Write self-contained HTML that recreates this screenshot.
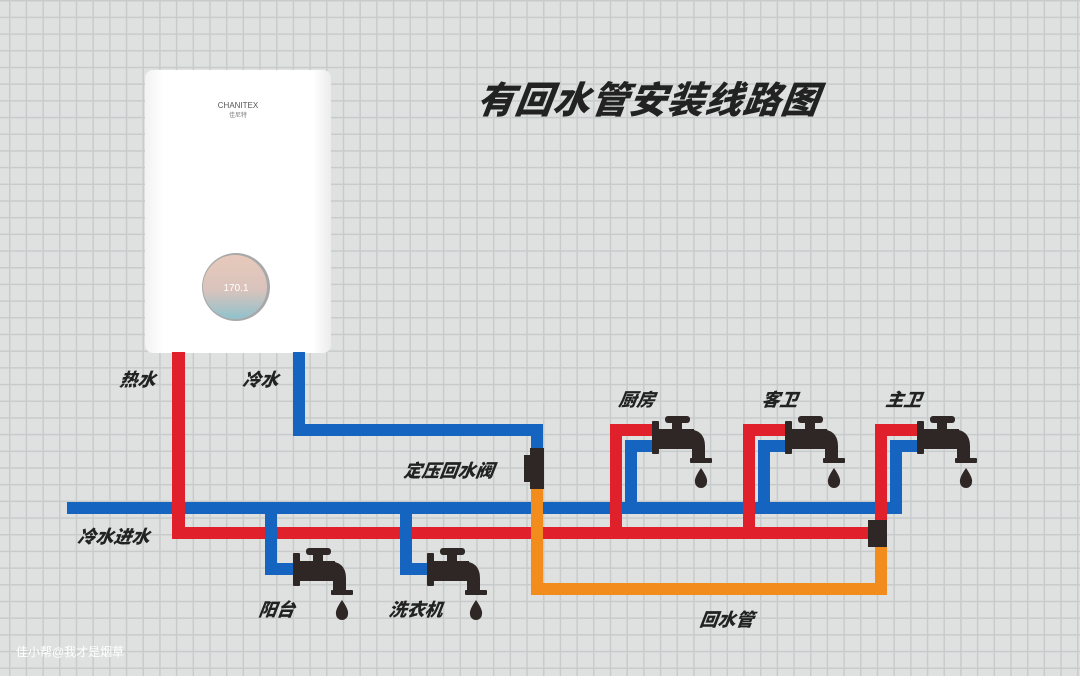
<!DOCTYPE html>
<html><head><meta charset="utf-8"><style>
html,body{margin:0;padding:0}
body{width:1080px;height:676px;overflow:hidden;position:relative;background:#dfe1e1;
background-image:linear-gradient(#c8cbcb 1.5px,transparent 1.5px),linear-gradient(90deg,#c8cbcb 1.5px,transparent 1.5px);
background-size:16.7px 16.7px;background-position:9px 0px;font-family:"Liberation Sans","Noto Sans CJK SC",sans-serif}
.t{position:absolute;font-weight:900;font-style:italic;color:#222;font-size:18px;white-space:nowrap;transform:skewX(-8deg)}
</style></head><body>
<svg width="1080" height="676" style="position:absolute;left:0;top:0">
<defs>
<linearGradient id="hg" x1="0" x2="1"><stop offset="0" stop-color="#f2f2f2"/><stop offset=".1" stop-color="#fff"/><stop offset=".9" stop-color="#fff"/><stop offset="1" stop-color="#ececec"/></linearGradient>
<linearGradient id="dg" x1="0" y1="0" x2="0" y2="1"><stop offset="0" stop-color="#e8c9bb"/><stop offset=".55" stop-color="#d9c3bc"/><stop offset="1" stop-color="#8fc2cc"/></linearGradient>
<g id="tap" fill="#2e2726">
<rect x="0" y="1" width="7" height="33" rx="1"/>
<rect x="6" y="9" width="36" height="20"/>
<rect x="20" y="2" width="10" height="9"/>
<rect x="13" y="-4" width="25" height="7" rx="3"/>
<path d="M34 9 Q53 9 53 26 L53 40 L40 40 L40 29 L34 29 Z"/>
<rect x="38" y="38" width="22" height="5" rx="1"/>
<path d="M49 48 Q42 58 43 62 A6 6 0 0 0 55 62 Q56 58 49 48Z"/>
</g>
</defs>
<rect x="145" y="70" width="186" height="283" rx="8" fill="url(#hg)"/>
<circle cx="236" cy="287" r="34" fill="#a9a9a9"/>
<circle cx="235" cy="287" r="32" fill="url(#dg)"/>
<text x="238" y="108" font-size="8" text-anchor="middle" fill="#555" font-family="Liberation Sans">CHANITEX</text>
<text x="238" y="117" font-size="6" text-anchor="middle" fill="#777">佳尼特</text>
<text x="236" y="291" font-size="10" text-anchor="middle" fill="#fff">170.1</text>
<rect x="67" y="502" width="835" height="12" fill="#1565c0"/>
<g fill="#e0202a">
<rect x="172" y="352" width="13" height="187"/>
<rect x="172" y="527" width="715" height="12"/>
<rect x="610" y="424" width="12" height="115"/><rect x="610" y="424" width="44" height="12"/>
<rect x="743" y="424" width="12" height="115"/><rect x="743" y="424" width="44" height="12"/>
<rect x="875" y="424" width="12" height="100"/><rect x="875" y="424" width="44" height="12"/>
</g>
<g fill="#1565c0">
<rect x="293" y="352" width="12" height="84"/>
<rect x="293" y="424" width="250" height="12"/>
<rect x="531" y="424" width="12" height="26"/>
<rect x="625" y="440" width="12" height="74"/><rect x="625" y="440" width="29" height="12"/>
<rect x="758" y="440" width="12" height="74"/><rect x="758" y="440" width="29" height="12"/>
<rect x="890" y="440" width="12" height="74"/><rect x="890" y="440" width="29" height="12"/>
<rect x="265" y="514" width="12" height="61"/><rect x="265" y="563" width="30" height="12"/>
<rect x="400" y="514" width="12" height="61"/><rect x="400" y="563" width="30" height="12"/>
</g>
<g fill="#f28c1c">
<rect x="531" y="489" width="12" height="106"/>
<rect x="531" y="583" width="356" height="12"/>
<rect x="875" y="545" width="12" height="50"/>
</g>
<g fill="#2e2726">
<rect x="530" y="448" width="14" height="41"/><rect x="524" y="455" width="8" height="27"/>
<rect x="868" y="520" width="19" height="27"/>
</g>
<use href="#tap" x="652" y="420"/>
<use href="#tap" x="785" y="420"/>
<use href="#tap" x="917" y="420"/>
<use href="#tap" x="293" y="552"/>
<use href="#tap" x="427" y="552"/>
</svg>
<div class="t" style="left:478px;top:70px;font-size:37px;letter-spacing:1px">有回水管安装线路图</div>
<div class="t" style="left:120px;top:366px">热水</div>
<div class="t" style="left:243px;top:366px">冷水</div>
<div class="t" style="left:404px;top:457px">定压回水阀</div>
<div class="t" style="left:78px;top:523px">冷水进水</div>
<div class="t" style="left:619px;top:386px">厨房</div>
<div class="t" style="left:762px;top:386px">客卫</div>
<div class="t" style="left:886px;top:386px">主卫</div>
<div class="t" style="left:259px;top:596px">阳台</div>
<div class="t" style="left:389px;top:596px">洗衣机</div>
<div class="t" style="left:700px;top:606px">回水管</div>
<div style="position:absolute;left:16px;top:643px;font-size:12px;color:#fff">佳小帮@我才是烟草</div>
</body></html>
